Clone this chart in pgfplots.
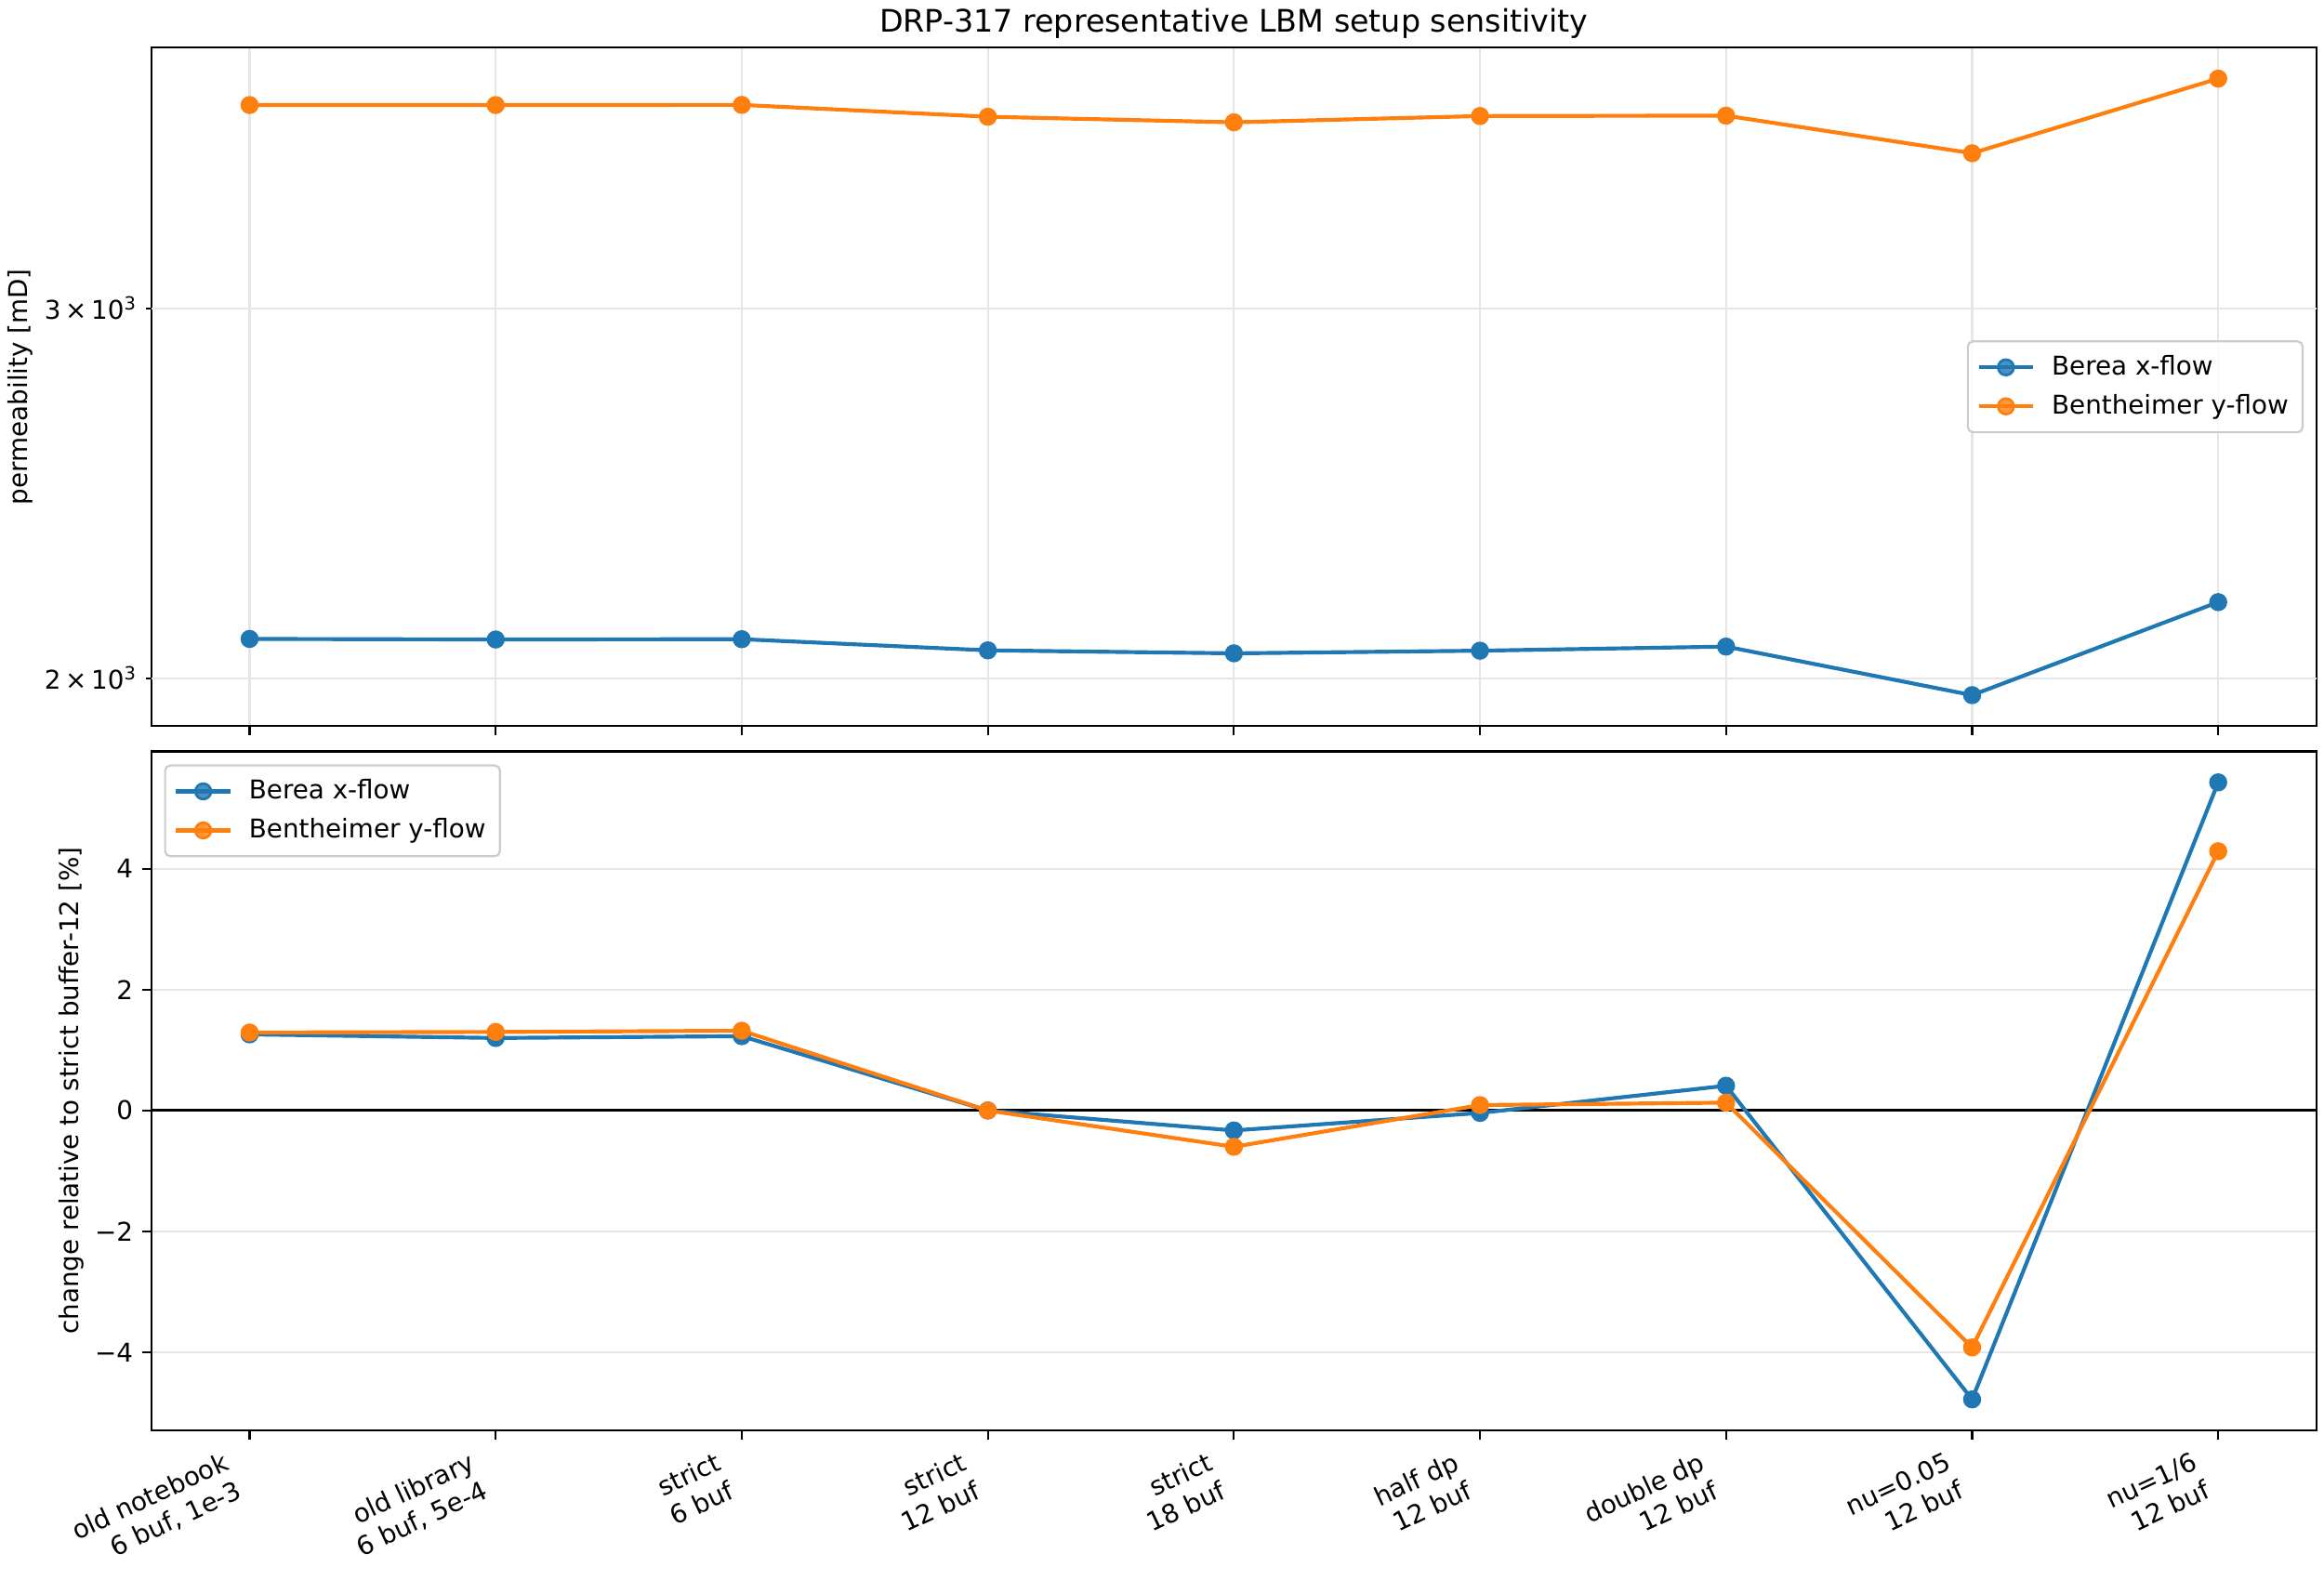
\documentclass[border=0pt]{standalone}
\usepackage{fontspec}
\setmainfont{DejaVu Sans}
\usepackage{pgfplots}
\pgfplotsset{compat=1.18}

\definecolor{mplblue}{HTML}{1F77B4}
\definecolor{mplorange}{HTML}{FF7F0E}
\definecolor{gridgray}{HTML}{E6E6E6}
\definecolor{legendedge}{HTML}{CCCCCC}

% permeability [mD] per configuration
\pgfplotstableread{
x   berea   bentheimer
0   2088.0  3749.8
1   2086.7  3750.1
2   2087.4  3750.9
3   2062.0  3702.0
4   2055.2  3679.8
5   2061.2  3705.3
6   2070.5  3706.8
7   1963.4  3556.9
8   2174.0  3860.8
}\permtable

% change relative to strict buffer-12 [%]
\pgfplotstableread{
x   berea   bentheimer
0   1.26    1.29
1   1.20    1.30
2   1.23    1.32
3   0.00    0.00
4   -0.33   -0.60
5   -0.04   0.09
6   0.41    0.13
7   -4.78   -3.92
8   5.43    4.29
}\changetable

\pgfplotsset{
  panel/.style={
    scale only axis,
    width=838.6pt, height=262.9pt,
    xmin=-0.4, xmax=8.4,
    xtick={0,...,8},
    xtick pos=bottom, ytick pos=left,
    tick align=outside,
    major tick length=3.5pt,
    every tick/.style={black, line width=0.8pt},
    axis line style={black, line width=0.8pt},
    grid style={gridgray, line width=0.8pt},
    font=\fontsize{10}{12}\selectfont,
    ticklabel style={font=\fontsize{10}{12}\selectfont},
    label style={font=\fontsize{10}{12}\selectfont},
    legend cell align=left,
    legend style={draw=legendedge, line width=0.8pt, rounded corners=2pt,
      fill=white, fill opacity=0.8, text opacity=1,
      inner xsep=3.5pt, inner ysep=3.5pt, row sep=2pt, column sep=4.5pt,
      font=\fontsize{10}{12}\selectfont},
    legend image code/.code={
      \draw[##1, mark repeat=2, mark phase=2]
        plot coordinates {(0pt,0pt) (10.5pt,0pt) (21pt,0pt)};},
  },
  series/.style={#1, line width=1.5pt, mark=*, mark size=3pt,
    mark options={solid, line width=1pt, draw=#1, fill=#1}},
}

\begin{document}
\begin{tikzpicture}
\path[use as bounding box] (-58.55pt,-58pt) rectangle (841.45pt,554pt);

% upper panel: absolute permeability on a log scale
\begin{axis}[panel,
  at={(0pt,272.66pt)}, anchor=south west,
  ymode=log,
  ymin=1897.6, ymax=3994.5,
  ytick=\empty,
  extra y ticks={2000,3000},
  extra y tick labels={2\,×\,10\textsuperscript{3}, 3\,×\,10\textsuperscript{3}},
  extra y tick style={major tick length=2pt, ymajorgrids=true,
    tick style={line width=0.6pt}},
  yminorticks=false,
  xticklabels={},
  xmajorgrids,
  ylabel={permeability [mD]},
  ylabel style={at={(axis description cs:-0.0605,0.5)}, anchor=center, rotate=0},
  title={DRP-317 representative LBM setup sensitivity},
  every axis title shift=0pt,
  title style={at={(axis description cs:0.5,1)}, anchor=base, yshift=6pt,
    font=\fontsize{12}{14}\selectfont},
  legend style={at={(axis description cs:1,0.5)}, anchor=east, xshift=-5pt},
]
\addplot[series=mplblue] table[x=x, y=berea] {\permtable};
\addlegendentry{Berea x-flow}
\addplot[series=mplorange] table[x=x, y=bentheimer] {\permtable};
\addlegendentry{Bentheimer y-flow}
\end{axis}

% lower panel: relative change in percent
\begin{axis}[panel,
  at={(0pt,0pt)}, anchor=south west,
  ymin=-5.2905, ymax=5.9405,
  ytick={-4,-2,0,2,4},
  yticklabels={−4,−2,0,2,4},
  ymajorgrids,
  xticklabels={{old notebook\\6 buf, 1e-3}, {old library\\6 buf, 5e-4},
    {strict\\6 buf}, {strict\\12 buf}, {strict\\18 buf}, {half dp\\12 buf},
    {double dp\\12 buf}, {nu=0.05\\12 buf}, {nu=1/6\\12 buf}},
  xticklabel style={align=right, xshift=-9pt, rotate=25, anchor=north east,
    font=\fontsize{10}{12}\selectfont},
  ylabel={change relative to strict buffer-12 [\%]},
  ylabel style={at={(axis description cs:-0.037,0.5)}, anchor=center, rotate=0},
  legend style={at={(axis description cs:0,1)}, anchor=north west,
    xshift=5pt, yshift=-5pt},
]
\addplot[black, line width=1pt, forget plot] coordinates {(-0.4,0) (8.4,0)};
\addplot[series=mplblue] table[x=x, y=berea] {\changetable};
\addlegendentry{Berea x-flow}
\addplot[series=mplorange] table[x=x, y=bentheimer] {\changetable};
\addlegendentry{Bentheimer y-flow}
\end{axis}
\end{tikzpicture}
\end{document}
